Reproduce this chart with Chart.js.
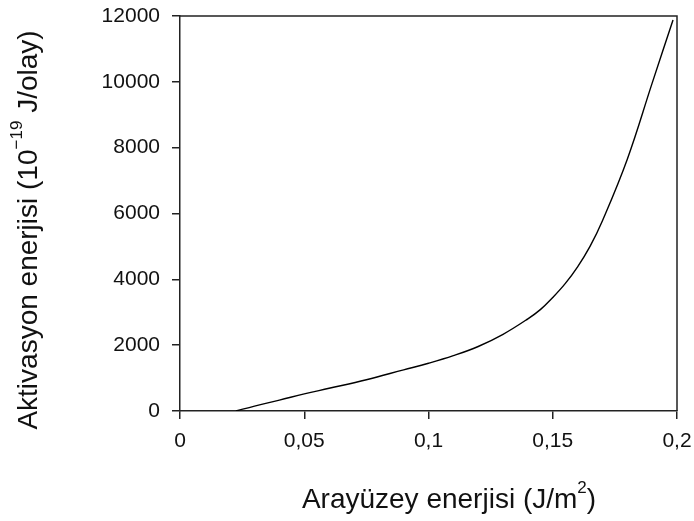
<!DOCTYPE html>
<html>
<head>
<meta charset="utf-8">
<script src="https://cdn.jsdelivr.net/npm/chart.js@4"></script>
<style>
  html, body { margin: 0; padding: 0; background: #fff; }
  #wrap { width: 694px; height: 521px; }
</style>
</head>
<body>
<div id="wrap"><canvas id="energyChart"></canvas></div>
<script>
// values
const surfaceEnergy = [0.0225, 0.03, 0.04, 0.05, 0.06, 0.075, 0.09, 0.1, 0.11, 0.12, 0.13, 0.14, 0.145, 0.15, 0.155, 0.16, 0.165, 0.17, 0.18, 0.19, 0.1984];
const activationEnergy = [0, 150, 330, 520, 690, 950, 1250, 1450, 1680, 1960, 2330, 2800, 3080, 3450, 3870, 4380, 5000, 5780, 7650, 9960, 11880];
const xTicks = [0, 0.05, 0.1, 0.15, 0.2];
const yTicks = [0, 2000, 4000, 6000, 8000, 10000, 12000];

const xTitle = [["Arayüzey enerjisi (J/m", false], ["2", true], [")", false]];
const yTitle = [["Aktivasyon enerjisi (10", false], ["−19", true], [" J/olay)", false]];

const FONT = "'Liberation Sans', Arial, sans-serif";
const AXIS = "#222";

function drawRich(ctx, parts, size) {
  const supSize = Math.round(size * 0.6);
  let total = 0;
  const widths = parts.map(([t, sup]) => {
    ctx.font = `${sup ? supSize : size}px ${FONT}`;
    const w = ctx.measureText(t).width;
    total += w;
    return w;
  });
  let x = -total / 2;
  parts.forEach(([t, sup], i) => {
    ctx.font = `${sup ? supSize : size}px ${FONT}`;
    ctx.fillText(t, x, sup ? -size * 0.42 : 0);
    x += widths[i];
  });
}

const framePlugin = {
  id: "frame",
  afterDraw(chart) {
    const { ctx, chartArea: a } = chart;
    ctx.save();
    // top and right sides of the box
    ctx.strokeStyle = AXIS;
    ctx.lineWidth = 1.5;
    ctx.beginPath();
    ctx.moveTo(a.left, a.top);
    ctx.lineTo(a.right, a.top);
    ctx.lineTo(a.right, a.bottom);
    ctx.stroke();

    // axis titles
    ctx.fillStyle = "#111";
    ctx.textBaseline = "middle";
    ctx.textAlign = "left";
    ctx.save();
    ctx.translate(449, 500);
    drawRich(ctx, xTitle, 28);
    ctx.restore();
    ctx.save();
    ctx.translate(29, 230);
    ctx.rotate(-Math.PI / 2);
    drawRich(ctx, yTitle, 28);
    ctx.restore();
    ctx.restore();
  }
};

const tickStyle = {
  font: { family: FONT, size: 21 },
  color: "#111",
  maxRotation: 0,
  autoSkip: false
};

new Chart(document.getElementById("energyChart"), {
  type: "line",
  data: {
    datasets: [{
      data: surfaceEnergy.map((x, i) => ({ x: x, y: activationEnergy[i] })),
      borderColor: "#000",
      borderWidth: 1.4,
      pointRadius: 0,
      fill: false,
      tension: 0.4
    }]
  },
  options: {
    responsive: true,
    maintainAspectRatio: false,
    animation: false,
    layout: { padding: { top: 16, right: 17, left: 0, bottom: 0 } },
    plugins: { legend: { display: false }, tooltip: { enabled: false } },
    scales: {
      x: {
        type: "linear",
        min: 0,
        max: 0.2,
        afterBuildTicks: s => { s.ticks = xTicks.map(v => ({ value: v })); },
        afterFit: s => { s.height = 110; s.paddingLeft = 0; s.paddingRight = 0; },
        grid: { drawOnChartArea: false, drawTicks: true, tickLength: 8, color: AXIS, lineWidth: 1.5 },
        border: { color: AXIS, width: 1.5 },
        ticks: { ...tickStyle, padding: 10, callback: v => String(v).replace(".", ",") }
      },
      y: {
        type: "linear",
        min: 0,
        max: 12000,
        afterBuildTicks: s => { s.ticks = yTicks.map(v => ({ value: v })); },
        afterFit: s => { s.width = 180; s.paddingTop = 0; s.paddingBottom = 0; },
        grid: { drawOnChartArea: false, drawTicks: true, tickLength: 8, color: AXIS, lineWidth: 1.5 },
        border: { color: AXIS, width: 1.5 },
        ticks: { ...tickStyle, padding: 12, callback: v => String(v) }
      }
    }
  },
  plugins: [framePlugin]
});
</script>
</body>
</html>
